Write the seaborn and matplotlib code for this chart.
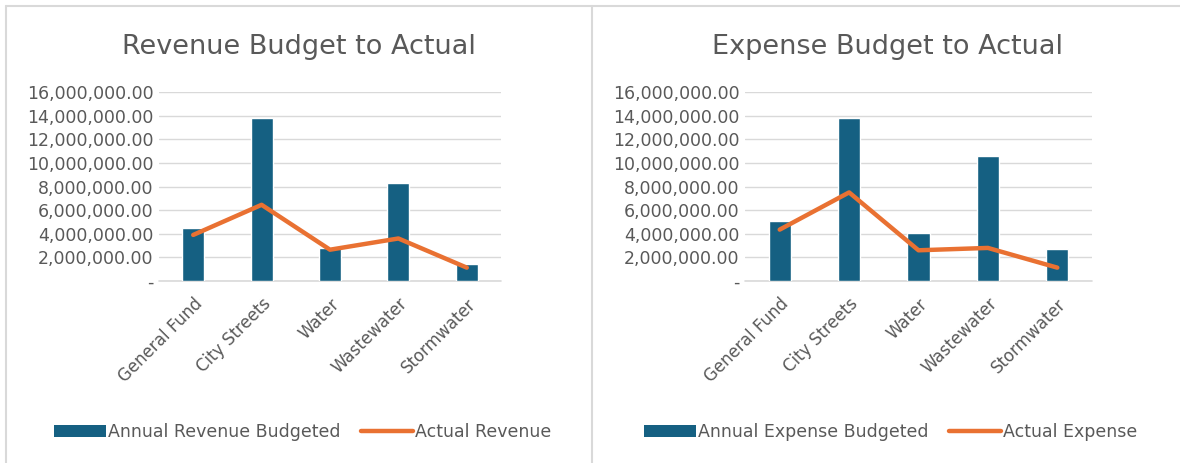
import numpy as np
import pandas as pd
import seaborn as sns
import matplotlib.pyplot as plt
from matplotlib.lines import Line2D
from matplotlib.patches import Patch
from matplotlib.ticker import FuncFormatter

# data
funds = ["General Fund", "City Streets", "Water", "Wastewater", "Stormwater"]
revenue_budget = [4500000, 13800000, 2800000, 8300000, 1450000]
revenue_actual = [3900000, 6450000, 2650000, 3600000, 1130000]
expense_budget = [5050000, 13800000, 4050000, 10600000, 2700000]
expense_actual = [4350000, 7500000, 2600000, 2800000, 1130000]
y_ticks = [0, 2000000, 4000000, 6000000, 8000000, 10000000, 12000000, 14000000, 16000000]

# style
col_bar = "#156082"
col_line = "#E97132"
col_text = "#595959"
col_grid = "#D9D9D9"
text_dct = {'title': 19.5, 'tick': 12.5, 'xtick': 12, 'legend': 12.5}

sns.set_theme(style="white")
plt.rcParams['font.family'] = ['DejaVu Sans']


def money_fmt(v, pos):
    if v == 0:
        return "-"
    return f"{v:,.2f}"


def plot_budget(ax, budget, actual, title, bar_label, line_label):
    df = pd.DataFrame({'fund': funds, 'budget': budget, 'actual': actual})
    sns.barplot(data=df, x='fund', y='budget', color=col_bar, width=0.32,
                saturation=1, ax=ax, zorder=2)
    sns.pointplot(data=df, x='fund', y='actual', color=col_line, markers='',
                  linestyles='-', linewidth=3.2, ax=ax, zorder=3)

    ax.set_ylim(0, 16000000)
    ax.set_xlim(-0.5, 4.5)
    ax.set_yticks(y_ticks)
    ax.yaxis.set_major_formatter(FuncFormatter(money_fmt))
    ax.grid(axis='y', color=col_grid, linewidth=1, zorder=0)
    ax.axhline(0, color=col_grid, linewidth=1.2, zorder=1, clip_on=False)
    ax.set_axisbelow(True)
    for s in ax.spines.values():
        s.set_visible(False)
    ax.tick_params(axis='y', length=0, labelsize=text_dct['tick'],
                   labelcolor=col_text, pad=4)
    ax.tick_params(axis='x', length=0, labelsize=text_dct['xtick'],
                   labelcolor=col_text, pad=10)
    for lab in ax.get_xticklabels():
        lab.set_rotation(45)
        lab.set_ha('right')
        lab.set_rotation_mode('anchor')
    ax.set_xlabel('')
    ax.set_ylabel('')
    ax.set_title(title, size=text_dct['title'], color=col_text, pad=27, x=0.41)

    handles = [Patch(facecolor=col_bar, edgecolor='none'),
               Line2D([0], [0], color=col_line, linewidth=3.2)]
    ax.legend(handles, [bar_label, line_label], loc='center',
              bbox_to_anchor=(0.42, -0.80), ncol=2, frameon=False,
              fontsize=text_dct['legend'], labelcolor=col_text,
              handlelength=3.0, handletextpad=0.1, columnspacing=1.2)


fig = plt.figure(figsize=(11.8, 4.63), dpi=100)
W, H = 1180, 463
ax1 = fig.add_axes([159 / W, 1 - 281 / H, 342 / W, 189 / H])
ax2 = fig.add_axes([745 / W, 1 - 281 / H, 347 / W, 189 / H])

plot_budget(ax1, revenue_budget, revenue_actual, "Revenue Budget to Actual",
            "Annual Revenue Budgeted", "Actual Revenue")
plot_budget(ax2, expense_budget, expense_actual, "Expense Budget to Actual",
            "Annual Expense Budgeted", "Actual Expense")

# chart borders
for xs, ys in [([6 / W, 1], [1 - 6 / H, 1 - 6 / H]),
               ([6 / W, 6 / W], [0, 1 - 6 / H]),
               ([592 / W, 592 / W], [0, 1 - 6 / H])]:
    fig.add_artist(Line2D(xs, ys, color=col_grid, linewidth=1.5,
                          transform=fig.transFigure))

plt.savefig("out.png", dpi=100)
